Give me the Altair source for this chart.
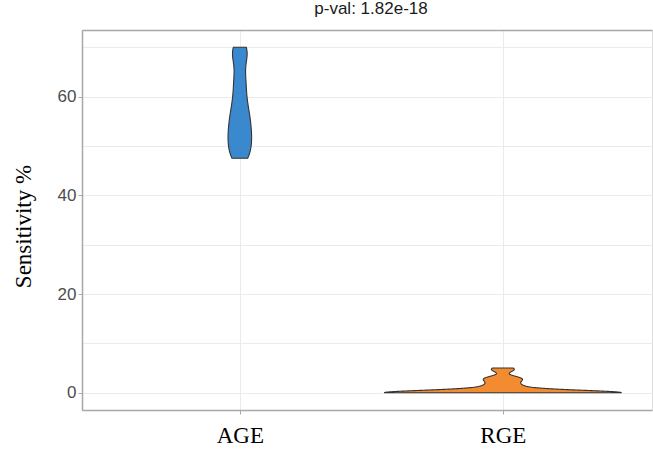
import altair as alt
import pandas as pd

# ---- data ----
categories = ["AGE", "RGE"]
age_sensitivity = [47.5, 47.5, 48, 48.5, 49, 50, 50.5, 51, 51.5, 52, 52.5, 53, 53.5,
                   54.5, 55, 55.5, 56, 56.5, 57.5, 58.5, 59, 60, 61, 62.5, 63, 64,
                   65.5, 67, 68, 69, 69.5, 70, 70]
rge_sensitivity = [0] * 18 + [1, 1, 1.5, 2, 2.5, 3, 3, 4.5, 5]
kde_bandwidth = [2.0, 0.5]
fill_colors = ["#3a89cf", "#f38b31"]
title_text = "p-val: 1.82e-18"
y_label_values = [0, 20, 40, 60]
y_grid_values = [0, 10, 20, 30, 40, 50, 60, 70]

rows = []
for i, (cat, vals) in enumerate(zip(categories, [age_sensitivity, rge_sensitivity])):
    for v in vals:
        rows.append({"group": cat, "pos": i + 1, "bw": kde_bandwidth[i], "value": v})
df = pd.DataFrame(rows)

label_expr = " : ".join(f"datum.value == {i + 1} ? '{c}'" for i, c in enumerate(categories)) + " : ''"
y_label_expr = f"indexof({y_label_values}, datum.value) >= 0 ? datum.label : ''"

grid_color = "#ebebeb"
border_color = "#a8a8a8"

x_scale = alt.Scale(domain=[0.4, 2.567], nice=False, zero=False)
y_scale = alt.Scale(domain=[-3.5, 73.5], nice=False, zero=False)

base = (
    alt.Chart(df)
    .transform_calculate(z="datum.value / datum.bw")
    .transform_density(
        density="z", groupby=["group", "pos", "bw"], bandwidth=1, steps=200,
        as_=["z", "dens"], resolve="independent",
    )
    .transform_calculate(v="datum.z * datum.bw", d="datum.dens / datum.bw")
    .transform_joinaggregate(dmax="max(d)")
    .transform_calculate(
        xl="datum.pos - 0.45 * datum.d / datum.dmax",
        xr="datum.pos + 0.45 * datum.d / datum.dmax",
    )
)

x_axis = alt.Axis(
    values=[1, 2], labelExpr=label_expr, title=None, grid=True, gridColor=grid_color,
    gridWidth=1, domainColor=border_color, domainWidth=1.5, tickColor=border_color,
    tickSize=4, labelFont="Liberation Serif", labelFontSize=23, labelColor="black",
    labelPadding=10,
)
y_axis = alt.Axis(
    values=y_grid_values, labelExpr=y_label_expr, grid=True, gridColor=grid_color,
    gridWidth=1, domainColor=border_color, domainWidth=1.5, tickColor=border_color,
    tickSize=4,
    tickOpacity={"condition": {"test": y_label_expr.replace("? datum.label : ''", "? false : true"), "value": 0}, "value": 1},
    labelFont="Liberation Sans", labelFontSize=17, labelColor="#4d4d4d", labelPadding=2,
    title="Sensitivity %", titleFont="Liberation Serif", titleFontSize=23,
    titleFontWeight="normal", titleColor="black", titleAngle=270, titleX=-52, titleY=196,
    titleAlign="center", titleBaseline="alphabetic",
)

violins = base.mark_area(orient="horizontal", stroke="#333333", strokeWidth=1.1).encode(
    y=alt.Y("v:Q", scale=y_scale, axis=y_axis),
    x=alt.X("xl:Q", scale=x_scale, axis=x_axis),
    x2="xr:Q",
    color=alt.Color("group:N", scale=alt.Scale(domain=categories, range=fill_colors), legend=None),
)

top_border = base.mark_area(orient="horizontal", opacity=0).encode(
    y=alt.Y("v:Q"),
    x=alt.X("xl:Q", axis=alt.Axis(orient="top", labels=False, ticks=False, grid=False,
                                  domainColor=border_color, domainWidth=1.5, title=None)),
    x2="xr:Q",
    detail="group:N",
)

chart = (
    alt.layer(violins, top_border)
    .resolve_axis(x="independent")
    .properties(
        width=570, height=380,
        title=alt.TitleParams(title_text, font="Liberation Sans", fontSize=17,
                              fontWeight="normal", color="#1a1a1a", anchor="middle",
                              dx=4, offset=12),
        padding={"left": 82, "top": 30, "right": 1, "bottom": 40},
        autosize="none",
    )
    .configure_view(stroke=None)
    .configure(background="white")
)

chart.save("out.html", embed_options={"renderer": "svg", "actions": False})
